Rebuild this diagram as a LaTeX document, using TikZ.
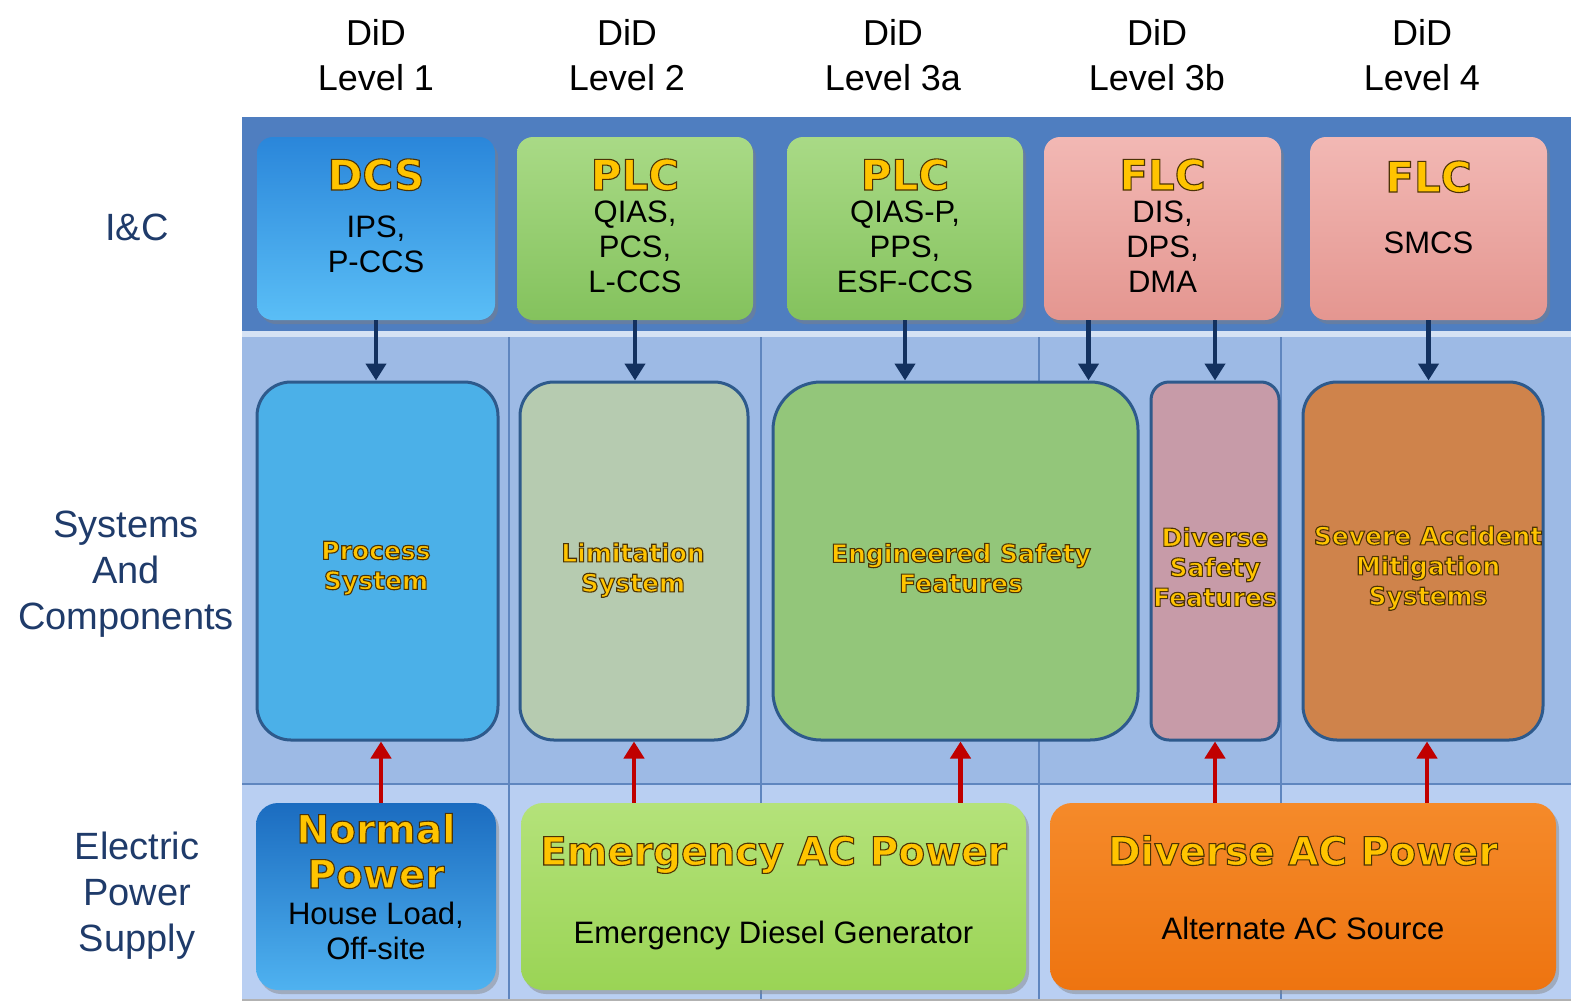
\documentclass[tikz,border=0pt]{standalone}
\usepackage{fontspec}
\setmainfont{Liberation Sans}
\newfontfamily\heavyfont{DejaVu Sans}
\usepackage{tikz}
\usetikzlibrary{arrows.meta,shadows}
\definecolor{icband}{HTML}{4F7EC0}
\definecolor{bandline}{HTML}{D5E2F4}
\definecolor{sysband}{HTML}{9DBAE5}
\definecolor{pwrband}{HTML}{B9CFF2}
\definecolor{sepline}{HTML}{5F86BF}
\definecolor{dcsTop}{HTML}{2A86DA}
\definecolor{dcsBot}{HTML}{5ABEF6}
\definecolor{plcTop}{HTML}{A9DA86}
\definecolor{plcBot}{HTML}{84C25D}
\definecolor{flcTop}{HTML}{F2B8B4}
\definecolor{flcBot}{HTML}{E49690}
\definecolor{procF}{HTML}{4BB0E8}
\definecolor{limF}{HTML}{B6CBB0}
\definecolor{esfF}{HTML}{93C67A}
\definecolor{dsfF}{HTML}{C79BA8}
\definecolor{samsF}{HTML}{CF834B}
\definecolor{sysline}{HTML}{2E5A8C}
\definecolor{nrmTop}{HTML}{1B6CC0}
\definecolor{nrmBot}{HTML}{4FB2F0}
\definecolor{emgTop}{HTML}{B4E27A}
\definecolor{emgBot}{HTML}{9AD455}
\definecolor{divTop}{HTML}{F58A2A}
\definecolor{divBot}{HTML}{EE7410}
\definecolor{gold}{HTML}{FFC400}
\definecolor{navy}{HTML}{1F3B6A}
\definecolor{arrowblue}{HTML}{13315F}
\definecolor{arrowred}{HTML}{C00000}
% dark edge round the gold lettering
\newcommand\edged[1]{\special{pdf:literal direct 2 Tr 1.1 w 0.30 0.20 0.02 RG}#1\special{pdf:literal direct 0 Tr}}

\begin{document}
\begin{tikzpicture}[x=1pt,y=-1pt,
 icbox/.style={rounded corners=16pt,inner sep=0pt,minimum height=183pt,
 drop shadow={opacity=0.45,shadow xshift=3pt,shadow yshift=-4pt}},
 sysbox/.style={draw=sysline,line width=3pt,rounded corners=34pt,inner sep=0pt,
 minimum height=358pt},
 pwrbox/.style={rounded corners=22pt,inner sep=0pt,minimum height=187pt,
 drop shadow={opacity=0.45,shadow xshift=3pt,shadow yshift=-4pt}},
 ttl/.style={text=gold,inner sep=0pt,anchor=base,
 font=\heavyfont\bfseries\fontsize{42}{46}\selectfont},
 pttl/.style={ttl,align=center,font=\heavyfont\bfseries\fontsize{39}{45}\selectfont},
 sub/.style={inner sep=0pt,anchor=north,align=center,font=\fontsize{31}{35}\selectfont},
 sysname/.style={text=gold,inner sep=0pt,align=center,
 font=\heavyfont\bfseries\fontsize{25}{30}\selectfont},
 lvl/.style={inner sep=0pt,anchor=north,align=center,font=\fontsize{36}{45}\selectfont},
 row/.style={inner sep=0pt,align=center,text=navy,font=\fontsize{38}{46}\selectfont},
 down/.style={-{Triangle[length=17pt,width=20pt]},line width=4.5pt,draw=arrowblue},
 up/.style={down,draw=arrowred}]
 \fill[white] (0,0) rectangle (1571,1007);
 \useasboundingbox (0,0) rectangle (1571,1007);
 % bands
 \fill[icband] (242,117) rectangle (1571,331);
 \fill[bandline] (242,331) rectangle (1571,337);
 \fill[sysband] (242,337) rectangle (1571,783);
 \fill[pwrband] (242,785) rectangle (1571,1000);
 \draw[sepline,line width=1.5pt] (242,784) -- (1571,784);
 \foreach \x in {509,761,1039,1281}
 \draw[sepline,line width=1.2pt] (\x,337) -- (\x,1000);
 \draw[gray!60,line width=1.5pt] (242,1000) -- (1571,1000);

 % column heads and row heads
 \node[lvl] (did1) at (376,19) {DiD\\Level 1};
 \node[lvl] (did2) at (627,19) {DiD\\Level 2};
 \node[lvl] (did3a) at (893,19) {DiD\\Level 3a};
 \node[lvl] (did3b) at (1157,19) {DiD\\Level 3b};
 \node[lvl] (did4) at (1422,19) {DiD\\Level 4};
 \node[row] (ic) at (137,227) {I\&C};
 \node[row] (sac) at (126,574) {Systems\\And\\Components};
 \node[row] (eps) at (137,896) {Electric\\Power\\Supply};

 % I&C
 \node[icbox,top color=dcsTop,bottom color=dcsBot,minimum width=238pt] (dcs) at (376,228.5) {};
 \node[icbox,top color=plcTop,bottom color=plcBot,minimum width=236pt] (plca) at (635,228.5) {};
 \node[icbox,top color=plcTop,bottom color=plcBot,minimum width=236pt] (plcb) at (905,228.5) {};
 \node[icbox,top color=flcTop,bottom color=flcBot,minimum width=237pt] (flca) at (1162.5,228.5) {};
 \node[icbox,top color=flcTop,bottom color=flcBot,minimum width=237pt] (flcb) at (1428.5,228.5) {};
 \node[ttl] (dcsT) at (dcs.center |- 0,190) {\edged{DCS}};
 \node[ttl] (plcaT) at (plca.center |- 0,190) {\edged{PLC}};
 \node[ttl] (plcbT) at (plcb.center |- 0,190) {\edged{PLC}};
 \node[ttl] (flcaT) at (flca.center |- 0,190) {\edged{FLC}};
 \node[ttl] (flcbT) at (flcb.center |- 0,192) {\edged{FLC}};
 \node[sub] (dcsS) at (dcs.center |- 0,216) {IPS,\\P-CCS};
 \node[sub] (plcaS) at (plca.center |- 0,201) {QIAS,\\PCS,\\L-CCS};
 \node[sub] (plcbS) at (plcb.center |- 0,201) {QIAS-P,\\PPS,\\ESF-CCS};
 \node[sub] (flcaS) at (flca.center |- 0,201) {DIS,\\DPS,\\DMA};
 \node[sub] (flcbS) at (flcb.center |- 0,232) {SMCS};

 % systems
 \node[sysbox,fill=procF,minimum width=241pt] (proc) at (377.5,561) {};
 \node[sysbox,fill=limF,minimum width=228pt] (limit) at (634,561) {};
 \node[sysbox,fill=esfF,minimum width=365pt,rounded corners=48pt] (esf) at (955.5,561) {};
 \node[sysbox,fill=dsfF,minimum width=128pt,rounded corners=18pt] (dsf) at (1215,561) {};
 \node[sysbox,fill=samsF,minimum width=240pt] (sams) at (1423,561) {};
 \node[sysname] (procT) at (376,568) {\edged{Process}\\\edged{System}};
 \node[sysname] (limitT) at (633,570) {\edged{Limitation}\\\edged{System}};
 \node[sysname] (esfT) at (961,568) {\edged{Engineered Safety}\\\edged{Features}};
 \node[sysname] (dsfT) at (1215,567) {\edged{Diverse}\\\edged{Safety}\\\edged{Features}};
 \node[sysname] (samsT) at (1428,568) {\edged{Severe Accident}\\\edged{Mitigation}\\\edged{Systems}};

 % power
 \node[pwrbox,top color=nrmTop,bottom color=nrmBot,minimum width=240pt] (normal) at (376,896.5) {};
 \node[pwrbox,top color=emgTop,bottom color=emgBot,minimum width=505pt] (emerg) at (773.5,896.5) {};
 \node[pwrbox,top color=divTop,bottom color=divBot,minimum width=506pt] (divac) at (1303,896.5) {};
 \node[pttl] (normalT) at (normal.center |- 0,888) {\edged{Normal}\\\edged{Power}};
 \node[pttl] (emergT) at (emerg.center |- 0,865) {\edged{Emergency AC Power}};
 \node[pttl] (divacT) at (divac.center |- 0,865) {\edged{Diverse AC Power}};
 \node[sub] (normalS) at (normal.center |- 0,902) {House Load,\\Off-site};
 \node[sub] (emergS) at (emerg.center |- 0,921) {Emergency Diesel Generator};
 \node[sub] (divacS) at (divac.center |- 0,917) {Alternate AC Source};

 % I&C actuates systems
 \draw[down] (dcs.south) -- (dcs.south |- proc.north);
 \draw[down] (plca.south) -- (plca.south |- limit.north);
 \draw[down] (plcb.south) -- (plcb.south |- esf.north);
 \draw[down] ([xshift=-74pt]flca.south) -- ([xshift=-74pt]flca.south |- esf.north);
 \draw[down] (dsf.north |- flca.south) -- (dsf.north);
 \draw[down] (flcb.south) -- (flcb.south |- sams.north);
 % power feeds systems
 \draw[up] ([xshift=5pt]normal.north) -- ([xshift=5pt]normal.north |- proc.south);
 \draw[up] (limit.south |- emerg.north) -- (limit.south);
 \draw[up] ([xshift=5pt]esf.south |- emerg.north) -- ([xshift=5pt]esf.south);
 \draw[up] (dsf.south |- divac.north) -- (dsf.south);
 \draw[up] ([xshift=4pt]sams.south |- divac.north) -- ([xshift=4pt]sams.south);
\end{tikzpicture}
\end{document}
